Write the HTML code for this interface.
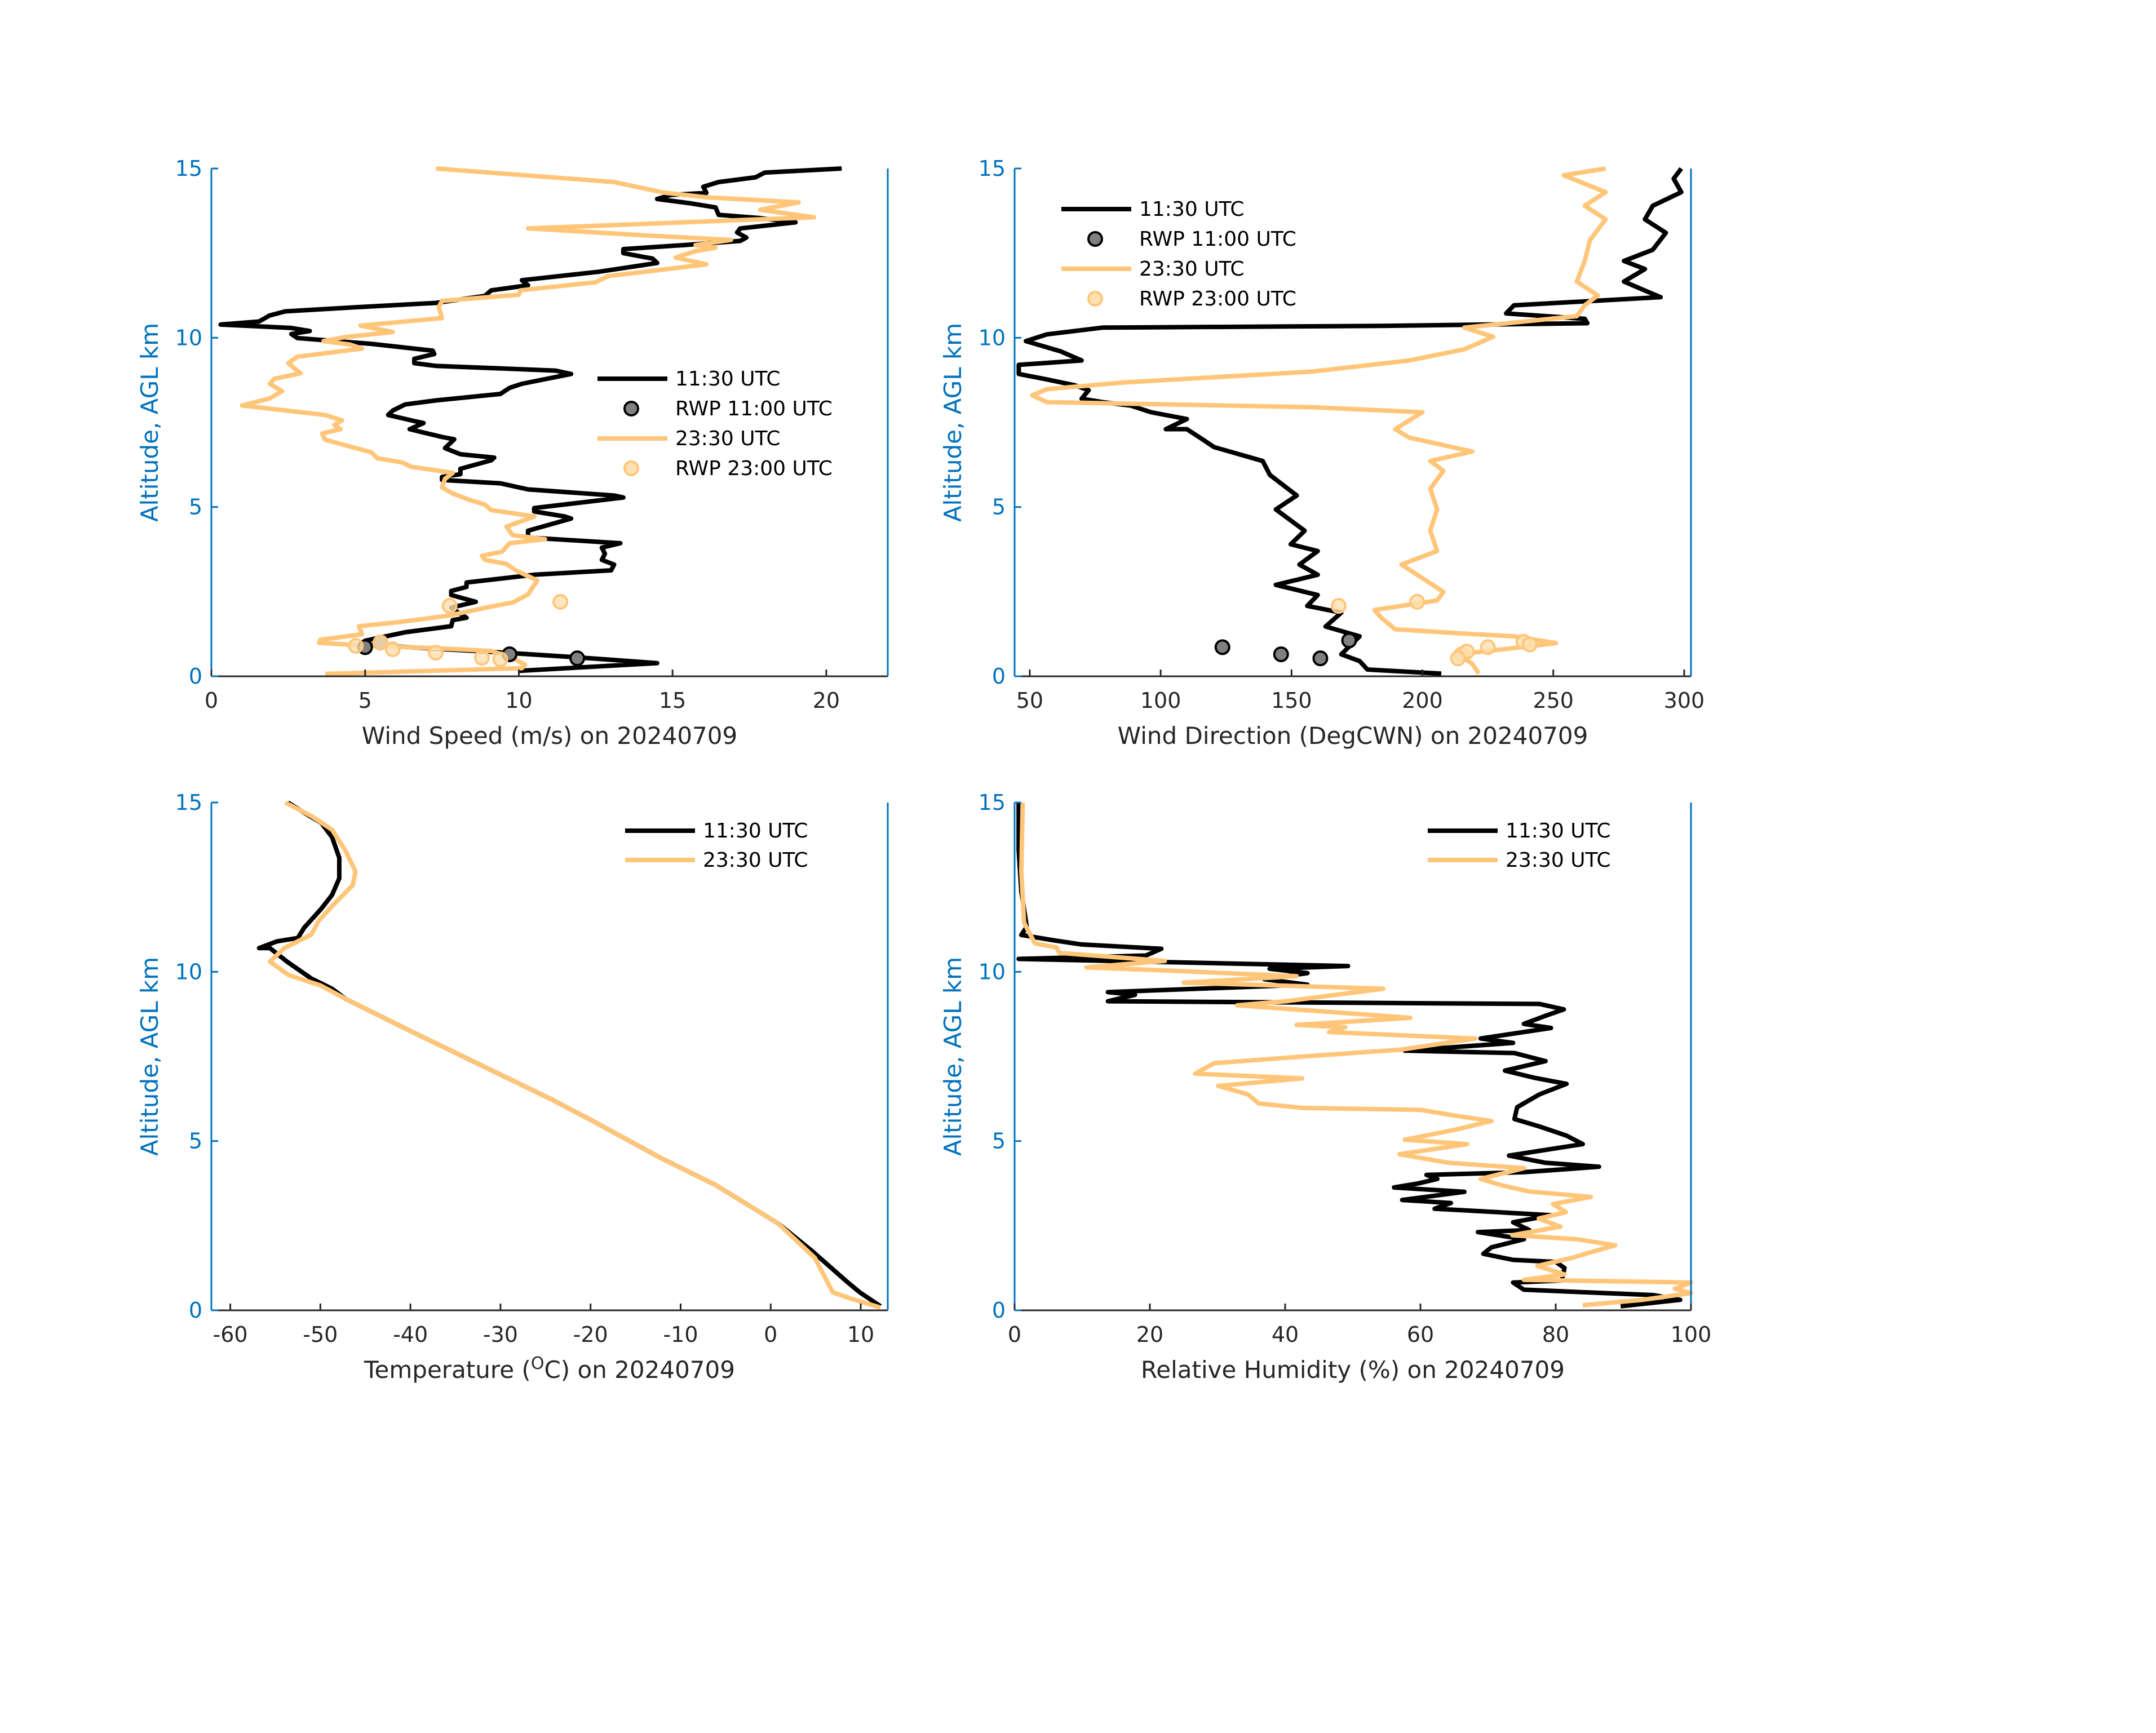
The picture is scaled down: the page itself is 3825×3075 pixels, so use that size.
<!DOCTYPE html>
<html><head><meta charset="utf-8"><style>
html,body{margin:0;padding:0;background:#fff;}
svg{display:block;font-family:"DejaVu Sans","Liberation Sans",sans-serif;}
</style></head><body>
<svg id="fig" width="3825" height="3075" viewBox="0 0 3825 3075" xmlns="http://www.w3.org/2000/svg"></svg>
<script>
// ---- Panel 1: wind speed (value, altitude km)
const wsBlk = [[10,0.16],[14.5,0.39],[11.9,0.56],[9.7,0.69],[5.05,0.93],[5,1.05],[6.3,1.3],[7.8,1.48],[7.85,1.66],[8.3,1.73],[8.0,1.9],[7.8,2.03],[8.6,2.2],[7.8,2.4],[7.8,2.52],[8.3,2.64],[8.3,2.77],[10.5,3.0],[13.0,3.13],[13.1,3.3],[12.7,3.44],[12.8,3.62],[12.7,3.8],[13.3,3.93],[10.3,4.1],[10.3,4.3],[11.7,4.66],[11.5,4.72],[10.5,4.87],[10.5,4.97],[13.4,5.28],[13.1,5.34],[10.3,5.52],[9.4,5.7],[7.5,5.8],[7.5,5.89],[8.1,5.97],[8.1,6.13],[9.1,6.38],[9.2,6.46],[8.1,6.56],[7.6,6.74],[7.9,7.0],[7.5,7.07],[6.9,7.2],[6.45,7.3],[6.9,7.48],[6.6,7.54],[5.75,7.72],[5.9,7.85],[6.3,8.03],[7.3,8.15],[9.4,8.34],[9.7,8.52],[10.1,8.64],[11.7,8.93],[11.2,9.03],[7.3,9.17],[6.6,9.25],[6.6,9.38],[7.25,9.52],[7.2,9.62],[5.2,9.82],[2.8,9.99],[2.6,10.11],[3.2,10.2],[2.6,10.29],[0.3,10.39],[1.55,10.48],[1.9,10.66],[2.4,10.78],[4.85,10.91],[7.3,11.03],[8.9,11.24],[9.1,11.4],[10.3,11.55],[10.1,11.7],[12.6,11.95],[14.5,12.21],[14.35,12.34],[13.4,12.5],[13.4,12.62],[15.4,12.74],[17.2,12.86],[17.4,12.96],[17.1,13.11],[17.2,13.23],[19.0,13.41],[17.8,13.54],[16.5,13.63],[16.4,13.85],[15.6,13.97],[14.5,14.1],[14.95,14.22],[16.1,14.28],[16.0,14.46],[16.5,14.6],[17.7,14.74],[18.0,14.88],[20.5,15.0]];
const wsOrg = [[3.7,0.07],[10.1,0.24],[10.2,0.34],[9.8,0.54],[9.1,0.75],[7.3,0.83],[5.05,0.9],[3.5,0.99],[3.55,1.08],[4.9,1.24],[4.8,1.48],[6.1,1.6],[7.7,1.79],[9.1,2.06],[9.8,2.18],[10.3,2.42],[10.6,2.83],[9.9,3.13],[9.6,3.32],[8.9,3.44],[8.8,3.56],[9.45,3.68],[9.7,3.93],[10.85,4.05],[9.8,4.17],[9.6,4.42],[10.5,4.72],[9.1,4.91],[8.9,5.07],[8.4,5.21],[7.85,5.4],[7.5,5.58],[7.6,5.83],[7.85,6.01],[6.5,6.19],[6.2,6.32],[5.4,6.44],[5.2,6.62],[4.7,6.74],[3.7,6.99],[3.6,7.17],[4.2,7.3],[4.0,7.42],[4.25,7.56],[3.7,7.72],[1.0,8.0],[1.9,8.21],[2.3,8.42],[1.9,8.64],[2.05,8.79],[2.9,8.95],[2.5,9.25],[2.8,9.44],[4.9,9.68],[4.5,9.8],[3.65,9.9],[4.35,10.02],[5.9,10.17],[5.4,10.26],[4.85,10.36],[7.5,10.58],[7.4,10.91],[7.5,11.09],[10.0,11.27],[10.05,11.4],[12.5,11.64],[12.9,11.82],[15.2,12.07],[16.1,12.17],[15.1,12.37],[15.75,12.56],[16.4,12.66],[15.75,12.74],[16.9,12.89],[14.2,13.02],[10.3,13.23],[19.6,13.56],[17.85,13.78],[19.1,14.0],[16.1,14.15],[14.7,14.29],[13.1,14.6],[7.3,15.0]];
const wsRwp11 = [[5.0,0.86],[5.5,1.0],[9.7,0.65],[11.9,0.53]];
const wsRwp23 = [[4.7,0.9],[5.5,1.0],[5.9,0.8],[7.3,0.7],[8.8,0.55],[9.4,0.5],[7.75,2.08],[11.35,2.2]];
// ---- Panel 2: wind direction
const wdBlk = [[207.2,0.08],[179,0.2],[176,0.45],[169,0.65],[176,1.18],[163,1.47],[169,1.88],[156,2.08],[160,2.4],[144,2.7],[160,3.0],[153,3.3],[160,3.7],[149.7,3.9],[155,4.3],[144,4.93],[152,5.34],[141.7,5.95],[139,6.36],[120.4,6.77],[115,7.05],[110,7.3],[102,7.3],[110,7.6],[96.4,7.8],[88.4,8.0],[77.8,8.1],[69.8,8.2],[72.5,8.45],[67,8.6],[56.5,8.77],[45.8,8.93],[45.8,9.2],[69.8,9.33],[61.8,9.6],[48.5,9.9],[56.5,10.1],[77.8,10.3],[184,10.35],[263,10.43],[262,10.56],[232,10.72],[235,10.96],[291,11.2],[283,11.46],[277,11.66],[285,12.03],[277,12.27],[288,12.6],[293,13.1],[285,13.5],[288,13.9],[298.9,14.3],[296,14.7],[298.9,15]];
const wdOrg = [[221.6,0.08],[219,0.37],[213.6,0.65],[238,0.86],[251,0.98],[235,1.18],[216,1.26],[189.6,1.39],[184,1.75],[181.7,1.96],[205.6,2.24],[208,2.49],[200,2.9],[192,3.3],[205.6,3.7],[203,4.3],[205.6,4.93],[203,5.54],[208,6.07],[203,6.36],[219,6.64],[195,7.05],[189.6,7.3],[200,7.8],[157.7,7.95],[56.5,8.1],[51,8.3],[56.5,8.48],[85.8,8.68],[157.7,9.0],[195,9.33],[216,9.66],[227,10.03],[216,10.3],[259,10.64],[262,10.96],[267,11.25],[259,11.66],[262,12.27],[264,12.88],[270,13.5],[262,13.9],[270,14.3],[254,14.8],[270,15]];
const wdRwp11 = [[123.6,0.86],[146,0.65],[161,0.53],[172,1.06]];
const wdRwp23 = [[168,2.08],[198,2.2],[215,0.65],[217,0.73],[225,0.86],[238.6,1.02],[241,0.94],[213.6,0.53]];
// ---- Panel 3: temperature
const tBlk = [[12.2,0.12],[9.9,0.53],[8.4,0.86],[4.6,1.75],[0.8,2.57],[-6.1,3.7],[-12.2,4.5],[-19.8,5.6],[-24.4,6.24],[-31.3,7.13],[-39.6,8.2],[-47.2,9.2],[-48.7,9.5],[-51,9.8],[-53.7,10.3],[-55.6,10.7],[-56.8,10.7],[-54.8,10.9],[-52.5,11.0],[-51.8,11.3],[-49.9,11.86],[-48.7,12.27],[-47.9,12.76],[-47.9,13.37],[-48.7,13.98],[-49.9,14.4],[-51.8,14.7],[-53.6,15]];
const tOrg = [[12.2,0.08],[9.1,0.33],[6.9,0.53],[6.1,0.94],[4.9,1.55],[0.8,2.57],[-6.1,3.7],[-12.2,4.5],[-19.8,5.6],[-24.4,6.24],[-31.3,7.13],[-39.6,8.2],[-47.2,9.2],[-50,9.6],[-53.5,9.9],[-55.6,10.3],[-54,10.7],[-51,11.1],[-50.2,11.5],[-48.7,11.94],[-46.4,12.56],[-46.1,12.96],[-47.2,13.57],[-48.7,14.2],[-51,14.6],[-53.9,15]];
// ---- Panel 4: relative humidity
const rhBlk = [[89.6,0.12],[98.4,0.31],[94.4,0.45],[87.2,0.51],[75.3,0.61],[73.7,0.82],[80.9,0.88],[81.3,1.25],[80,1.43],[73.7,1.49],[69.3,1.67],[70.5,1.86],[75.3,2.1],[68.5,2.31],[76.1,2.37],[73.7,2.6],[79.3,2.81],[71.3,2.9],[62.1,3.0],[64.5,3.17],[57.3,3.26],[66.5,3.5],[56.1,3.63],[59.7,3.75],[62.5,3.88],[60.9,4.0],[75.3,4.08],[86.4,4.24],[78.4,4.36],[73.1,4.57],[84,4.91],[81.6,5.16],[77.6,5.43],[73.9,5.65],[74.3,6.0],[77.6,6.38],[81.6,6.69],[76.8,6.87],[72.5,7.08],[78.5,7.36],[73.9,7.6],[57.7,7.67],[73.7,7.9],[68.9,8.03],[79.3,8.34],[75.3,8.46],[78.5,8.7],[81.2,8.89],[77.6,9.05],[13.8,9.13],[17.8,9.32],[13.8,9.4],[43.3,9.62],[36.9,9.78],[43.3,9.96],[37.7,10.09],[49.3,10.17],[0.6,10.38],[19.4,10.48],[21.7,10.68],[9.8,10.81],[5.8,10.93],[1.0,11.09],[1.8,11.33],[1.0,12.37],[0.6,13.6],[0.6,15]];
const rhOrg = [[84,0.15],[92.8,0.31],[100,0.51],[97.6,0.64],[100,0.82],[75.3,0.9],[81.3,1.06],[77.3,1.31],[82.4,1.55],[85.6,1.74],[88.8,1.92],[83.2,2.1],[73.6,2.22],[80.7,2.47],[77.5,2.71],[81.5,2.9],[79.6,3.14],[85.2,3.35],[76.1,3.51],[72.1,3.69],[68.9,3.88],[75.3,4.2],[64.1,4.36],[56.9,4.61],[66.9,4.91],[57.7,5.04],[65.3,5.34],[70.5,5.59],[64.5,5.77],[60.1,5.92],[42.5,5.98],[36.1,6.11],[34.5,6.38],[30.1,6.63],[42.5,6.85],[26.7,6.99],[29.5,7.3],[43.5,7.51],[57.1,7.7],[68.1,8.03],[46.5,8.22],[48.9,8.36],[41.7,8.43],[58.5,8.64],[49.7,8.77],[32.9,9.01],[40.1,9.13],[54.5,9.5],[25.0,9.68],[41.7,9.87],[21,10.05],[10.6,10.13],[22.2,10.32],[6.6,10.56],[6.2,10.72],[3.0,10.84],[1.4,11.45],[1.0,12.98],[1.2,15]];
// ---- ticks
const yTicks = [0,5,10,15];
const wsTicks = [0,5,10,15,20];
const wdTicks = [50,100,150,200,250,300];
const tTicks = [-60,-50,-40,-30,-20,-10,0,10];
const rhTicks = [0,20,40,60,80,100];

const NS = "http://www.w3.org/2000/svg";
const svg = document.getElementById('fig');
const BLUE = "#0072BD", ORG = "#FFC67A";
function mk(tag, attrs, parent){ const e=document.createElementNS(NS,tag); for(const k in attrs) e.setAttribute(k,attrs[k]); (parent||svg).appendChild(e); return e; }

function panel(id, L, T, xmin, xmax, xticks, xlabel, series, dots, legend){
  const W=1200, H=901;
  const g = mk('g',{});
  
  
  const sx = v => L + (v - xmin)/(xmax - xmin)*W;
  const sy = a => T + H - a/15*H;
  series.forEach(s=>{
    const p = mk('polyline',{points:s.data.map(d=>sx(d[0]).toFixed(1)+','+sy(d[1]).toFixed(1)).join(' '),fill:'none',stroke:s.color,'stroke-width':8,'stroke-linejoin':'round'},g);
    
    
  });
  dots.forEach(s=>{
    s.data.forEach(d=>{
      const c = mk('circle',{cx:sx(d[0]),cy:sy(d[1]),r:12,fill:s.fill,stroke:s.stroke,'stroke-width':4,'fill-opacity':s.op},g);
      
      
    });
  });
  const xa = mk('line',{x1:L,y1:T+H,x2:L+W,y2:T+H,stroke:'#262626','stroke-width':3},g);
  
  
  const yl = mk('line',{x1:L,y1:T,x2:L,y2:T+H,stroke:BLUE,'stroke-width':3},g);
  
  
  const yr = mk('line',{x1:L+W,y1:T,x2:L+W,y2:T+H,stroke:BLUE,'stroke-width':3},g);
  
  
  xticks.forEach(v=>{
    const x=sx(v);
    mk('line',{x1:x,y1:T+H,x2:x,y2:T+H-12,stroke:'#262626','stroke-width':3},g);
    const t = mk('text',{x:x,y:T+H+56,'text-anchor':'middle','font-size':38,fill:'#262626'},g);
    t.textContent = v;
    
    
  });
  yTicks.forEach(v=>{
    const y=sy(v);
    mk('line',{x1:L,y1:y,x2:L+12,y2:y,stroke:BLUE,'stroke-width':3},g);
    const t = mk('text',{x:L-16,y:y+13,'text-anchor':'end','font-size':38,fill:BLUE},g);
    t.textContent = v;
    
    
  });
  const xl = mk('text',{x:L+W/2,y:T+H+120,'text-anchor':'middle','font-size':42,fill:'#262626'},g);
  xl.innerHTML = xlabel;
  
  
  const ylab = mk('text',{x:0,y:0,'text-anchor':'middle','font-size':42,fill:BLUE,transform:`translate(${L-95},${T+H/2}) rotate(-90)`},g);
  ylab.textContent = 'Altitude, AGL km';
  
  
  legend.items.forEach((it,i)=>{
    const y = legend.y + i*legend.dy;
    if(it.type==='line'){
      mk('line',{x1:legend.x,y1:y,x2:legend.x+124,y2:y,stroke:it.color,'stroke-width':8},g);
    } else {
      mk('circle',{cx:legend.x+60,cy:y,r:12,fill:it.fill,stroke:it.stroke,'stroke-width':4,'fill-opacity':it.op},g);
    }
    const t = mk('text',{x:legend.x+138,y:y+12,'font-size':36,fill:'#000'},g);
    t.textContent = it.label;
    
    
  });
}
const legLines = [{type:'line',color:'#000',label:'11:30 UTC'},{type:'dot',fill:'#808080',stroke:'#000',op:1,label:'RWP 11:00 UTC'},{type:'line',color:ORG,label:'23:30 UTC'},{type:'dot',fill:'#FFE0B0',stroke:ORG,op:1,label:'RWP 23:00 UTC'}];
const leg2 = [{type:'line',color:'#000',label:'11:30 UTC'},{type:'line',color:ORG,label:'23:30 UTC'}];
const d11 = s=>({data:s,name:'rwp-1100',fill:'#808080',stroke:'#000',op:1});
const d23 = s=>({data:s,name:'rwp-2300',fill:'#FFE0B0',stroke:ORG,op:0.8});

panel('wind-speed',375,299,0,22,wsTicks,'Wind Speed (m/s) on 20240709',
  [{data:wsBlk,color:'#000',name:'1130'},{data:wsOrg,color:ORG,name:'2330'}],
  [d11(wsRwp11),d23(wsRwp23)],{x:1060,y:672,dy:53,items:legLines});
panel('wind-direction',1800,299,44.2,302.6,wdTicks,'Wind Direction (DegCWN) on 20240709',
  [{data:wdBlk,color:'#000',name:'1130'},{data:wdOrg,color:ORG,name:'2330'}],
  [d11(wdRwp11),d23(wdRwp23)],{x:1883,y:371,dy:53,items:legLines});
panel('temperature',375,1424,-62.1,13,tTicks,'Temperature (<tspan dy="-16" font-size="30">O</tspan><tspan dy="16">C) on 20240709</tspan>',
  [{data:tBlk,color:'#000',name:'1130'},{data:tOrg,color:ORG,name:'2330'}],
  [],{x:1109,y:1474,dy:52,items:leg2});
panel('relative-humidity',1800,1424,0,100,rhTicks,'Relative Humidity (%) on 20240709',
  [{data:rhBlk,color:'#000',name:'1130'},{data:rhOrg,color:ORG,name:'2330'}],
  [],{x:2533,y:1474,dy:52,items:leg2});
</script>
</body></html>
